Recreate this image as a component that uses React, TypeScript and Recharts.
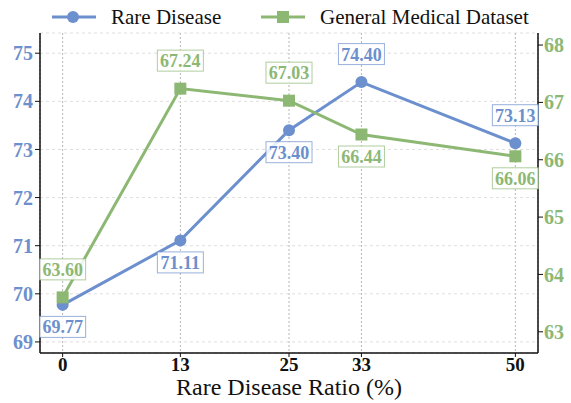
import React from 'react';
import { LineChart, Line, XAxis, YAxis, CartesianGrid, LabelList } from 'recharts';

const ratios = [0, 13, 25, 33, 50];
const rareDisease = [69.77, 71.11, 73.4, 74.4, 73.13];
const generalMedical = [63.6, 67.24, 67.03, 66.44, 66.06];
const leftTicks = [69, 70, 71, 72, 73, 74, 75];
const rightTicks = [63, 64, 65, 66, 67, 68];

// where each value box sits relative to its point
const rarePlacement = ['below', 'below', 'below', 'above', 'above'];
const generalPlacement = ['above', 'above', 'above', 'below', 'below'];

const data = ratios.map((x, i) => ({ x, rare: rareDisease[i], general: generalMedical[i] }));

const BLUE = '#6c8fcd';
const GREEN = '#8db874';
const FONT = '"Liberation Serif", "Times New Roman", serif';

const boxLabel = (color: string, placement: string[]) => (props: any) => {
  const { x, y, value, index } = props;
  const above = placement[index] === 'above';
  const cy = above ? y - 28 : y + 22;
  return (
    <g>
      <rect x={x - 23} y={cy - 10.5} width={46} height={21} fill="#fff" fillOpacity={0.85}
        stroke={color} strokeOpacity={0.7} strokeWidth={1} />
      <text x={x} y={cy} dy="0.36em" textAnchor="middle" fill={color} fontSize={18}
        fontWeight="bold" fontFamily={FONT}>
        {Number(value).toFixed(2)}
      </text>
    </g>
  );
};

const SquareDot = (props: any) => {
  const { cx, cy } = props;
  return <rect x={cx - 6} y={cy - 6} width={12} height={12} fill={GREEN} />;
};

function Legend() {
  const text = { position: 'absolute' as const, top: 4, fontFamily: FONT, fontSize: 21, lineHeight: '26px', color: '#111', whiteSpace: 'nowrap' as const };
  return (
    <div style={{ position: 'absolute', left: 0, top: 0, width: 571, height: 32 }}>
      <svg width={571} height={32} style={{ position: 'absolute', left: 0, top: 0 }}>
        <line x1={52} x2={96} y1={17} y2={17} stroke={BLUE} strokeWidth={3} />
        <circle cx={73} cy={17} r={6} fill={BLUE} />
        <line x1={261} x2={305} y1={17} y2={17} stroke={GREEN} strokeWidth={3} />
        <rect x={277} y={11} width={12} height={12} fill={GREEN} />
      </svg>
      <span style={{ ...text, left: 111 }}>Rare Disease</span>
      <span style={{ ...text, left: 320 }}>General Medical Dataset</span>
    </div>
  );
}

export default function App() {
  return (
    <div style={{ position: 'absolute', left: 0, top: 0, width: 571, height: 403, background: '#fff' }}>
      <LineChart width={571} height={403} data={data} margin={{ top: 33, right: 0, bottom: 0, left: 0 }}>
        <CartesianGrid xAxisId="bottom" yAxisId="left" horizontal={false} stroke="#b5b5b5" strokeDasharray="2 2" />
        <CartesianGrid xAxisId="bottom" yAxisId="left" vertical={false} stroke="#dedede" strokeDasharray="3 3" />
        <XAxis
          xAxisId="bottom"
          dataKey="x"
          type="number"
          domain={[-2.5, 52.5]}
          ticks={ratios}
          allowDataOverflow
          height={50}
          axisLine={{ stroke: '#111', strokeWidth: 1.5 }}
          tickLine={{ stroke: '#111' }}
          tickSize={4}
          tickMargin={1}
          tick={{ fill: '#111', fontSize: 19, fontWeight: 'bold', fontFamily: FONT }}
          label={{ value: 'Rare Disease Ratio (%)', position: 'insideBottom', offset: 8, fill: '#111', fontSize: 24, fontFamily: FONT }}
        />
        <XAxis
          xAxisId="top"
          orientation="top"
          dataKey="x"
          type="number"
          domain={[-2.5, 52.5]}
          height={0}
          tick={false}
          tickLine={false}
          axisLine={{ stroke: '#111', strokeWidth: 1.5 }}
        />
        <YAxis
          yAxisId="left"
          width={40}
          domain={[68.77, 75.42]}
          ticks={leftTicks}
          allowDataOverflow
          axisLine={{ stroke: '#111', strokeWidth: 1.5 }}
          tickLine={{ stroke: '#111' }}
          tickSize={5}
          tickMargin={2}
          tick={{ fill: BLUE, fontSize: 20, fontWeight: 'bold', fontFamily: FONT }}
        />
        <YAxis
          yAxisId="right"
          orientation="right"
          width={33}
          domain={[62.63, 68.21]}
          ticks={rightTicks}
          allowDataOverflow
          axisLine={{ stroke: '#111', strokeWidth: 1.5 }}
          tickLine={{ stroke: '#111' }}
          tickSize={5}
          tickMargin={1}
          tick={{ fill: GREEN, fontSize: 20, fontWeight: 'bold', fontFamily: FONT }}
        />
        <Line
          xAxisId="bottom"
          yAxisId="left"
          dataKey="rare"
          stroke={BLUE}
          strokeWidth={3}
          dot={{ r: 6, fill: BLUE, stroke: 'none' }}
          activeDot={false}
          isAnimationActive={false}
        >
          <LabelList dataKey="rare" content={boxLabel(BLUE, rarePlacement)} />
        </Line>
        <Line
          xAxisId="bottom"
          yAxisId="right"
          dataKey="general"
          stroke={GREEN}
          strokeWidth={3}
          dot={<SquareDot />}
          activeDot={false}
          isAnimationActive={false}
        >
          <LabelList dataKey="general" content={boxLabel(GREEN, generalPlacement)} />
        </Line>
      </LineChart>
      <Legend />
    </div>
  );
}
